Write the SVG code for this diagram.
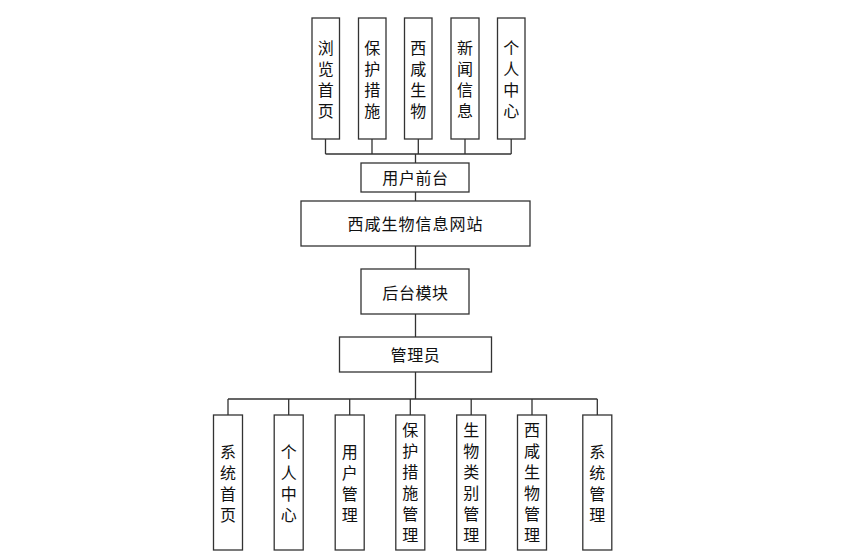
<svg xmlns="http://www.w3.org/2000/svg" width="860" height="560" viewBox="0 0 860 560">
<defs>
<style>
.box{fill:#ffffff;stroke:#333333;stroke-width:1.3}
.t{font-family:"Noto Sans CJK SC","Microsoft YaHei",sans-serif;font-size:16px;fill:#111111;text-anchor:middle}
.v{font-family:"Noto Sans CJK SC","Microsoft YaHei",sans-serif;font-size:16px;fill:#111111;text-anchor:middle;writing-mode:vertical-rl;letter-spacing:5px}
.ln{fill:none;stroke:#333333;stroke-width:1.3}
</style>
</defs>
<rect width="860" height="560" fill="#ffffff"/>
<g id="connectors">
<path class="ln" d="M325.5,139V154M372,139V154M418.3,139V154M465,139V154M511.2,139V154M325.5,154H511.2M415.5,154V163"/>
<path class="ln" d="M415.5,192V201M415.5,246V269M415.5,314V337M415.5,372V399"/>
<path class="ln" d="M228,399H597.3M228,399V415M288.7,399V415M349.7,399V415M410.3,399V415M471.2,399V415M532,399V415M597.3,399V415"/>
</g>
<g id="n_browse"><rect class="box" x="312" y="18" width="27.5" height="121"/><text class="v" x="325.7" y="81.5">浏览首页</text></g>
<g id="n_protect"><rect class="box" x="358.5" y="18" width="27.5" height="121"/><text class="v" x="372.2" y="81.5">保护措施</text></g>
<g id="n_bio"><rect class="box" x="404.5" y="18" width="27.5" height="121"/><text class="v" x="418.3" y="81.5">西咸生物</text></g>
<g id="n_news"><rect class="box" x="451" y="18" width="28" height="121"/><text class="v" x="465" y="81.5">新闻信息</text></g>
<g id="n_personal"><rect class="box" x="497.5" y="18" width="27.5" height="121"/><text class="v" x="511.2" y="81.5">个人中心</text></g>
<g id="n_front"><rect class="box" x="361" y="163" width="108" height="29"/><text class="t" x="415.5" y="183.5" letter-spacing="0.6">用户前台</text></g>
<g id="n_site"><rect class="box" x="301" y="201" width="229" height="45"/><text class="t" x="415.5" y="229.5" letter-spacing="1">西咸生物信息网站</text></g>
<g id="n_back"><rect class="box" x="361" y="269" width="108" height="45"/><text class="t" x="415.5" y="299" letter-spacing="0.6">后台模块</text></g>
<g id="n_admin"><rect class="box" x="339.5" y="337" width="152" height="35"/><text class="t" x="415.5" y="361" letter-spacing="0.6">管理员</text></g>
<g id="n_syshome"><rect class="box" x="213.5" y="415" width="29" height="135"/><text class="v" x="228" y="485.5">系统首页</text></g>
<g id="n_pc"><rect class="box" x="274.2" y="415" width="29" height="135"/><text class="v" x="288.7" y="485.5">个人中心</text></g>
<g id="n_user"><rect class="box" x="335.2" y="415" width="29" height="135"/><text class="v" x="349.7" y="485.5">用户管理</text></g>
<g id="n_protmgr"><rect class="box" x="395.8" y="415" width="29" height="135"/><text class="v" x="410.3" y="485">保护措施管理</text></g>
<g id="n_catmgr"><rect class="box" x="456.7" y="415" width="29" height="135"/><text class="v" x="471.2" y="485">生物类别管理</text></g>
<g id="n_biomgr"><rect class="box" x="517.5" y="415" width="29" height="135"/><text class="v" x="532" y="485">西咸生物管理</text></g>
<g id="n_sysmgr"><rect class="box" x="582.8" y="415" width="29" height="135"/><text class="v" x="597.3" y="485.5">系统管理</text></g>
</svg>
